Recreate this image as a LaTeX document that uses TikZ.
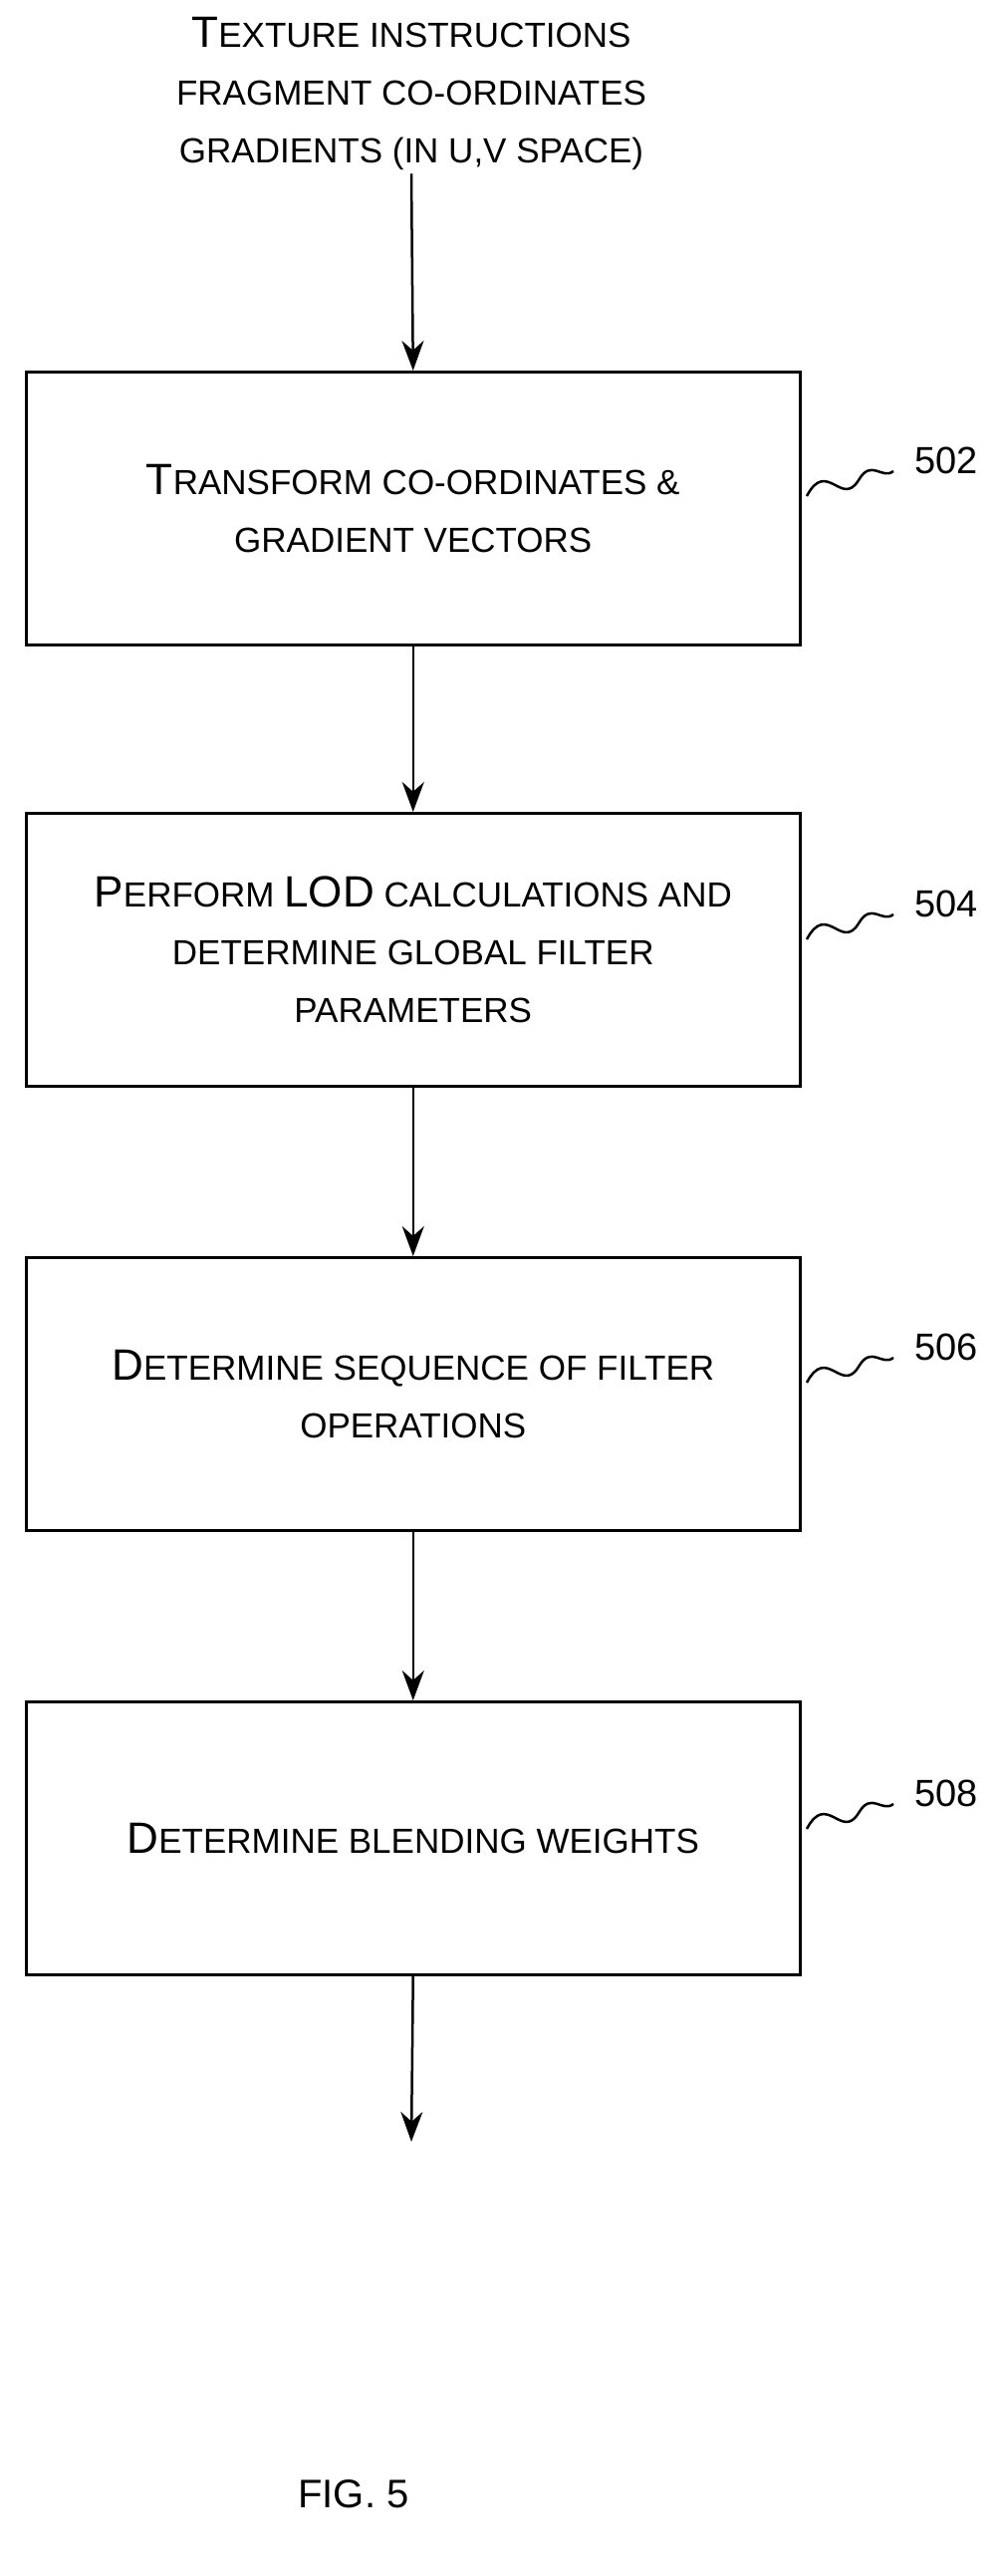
\documentclass[tikz,border=0pt]{standalone}
\usepackage{fontspec}
\setmainfont{Liberation Sans}
\usetikzlibrary{arrows.meta}
\newcommand{\bg}[1]{{\fontsize{44}{50}\selectfont #1}}
\begin{document}
\begin{tikzpicture}[x=1pt,y=-1pt,
  box/.style={draw,line width=2.5pt,minimum width=777pt,minimum height=274pt,anchor=north west,align=center,font=\fontsize{35}{58}\selectfont},
  arr/.style={line width=2.5pt,-{Stealth[length=30pt,width=22pt]}},
  sq/.style={line width=2.5pt},
  lab/.style={font=\fontsize{38}{40}\selectfont}]
\useasboundingbox (0,0) rectangle (1005,2586);
\node[align=center,font=\fontsize{35}{58}\selectfont] (top) at (413,94) {\bg{T}EXTURE INSTRUCTIONS\\FRAGMENT CO-ORDINATES\\GRADIENTS (IN U,V SPACE)};
\node[box] (b1) at (25,372) {\bg{T}RANSFORM CO-ORDINATES \&\\GRADIENT VECTORS};
\node[box] (b2) at (25,815) {\bg{P}ERFORM \bg{LOD} CALCULATIONS AND\\DETERMINE GLOBAL FILTER\\PARAMETERS};
\node[box] (b3) at (25,1261) {\bg{D}ETERMINE SEQUENCE OF FILTER\\OPERATIONS};
\node[box] (b4) at (25,1707) {\bg{D}ETERMINE BLENDING WEIGHTS};
\coordinate (end) at (413,2150);
\draw[arr] (top.south) -- (b1.north);
\draw[arr] (b1.south) -- (b2.north);
\draw[arr] (b2.south) -- (b3.north);
\draw[arr] (b3.south) -- (b4.north);
\draw[arr] (b4.south) -- (end);
\foreach \n/\y/\t in {1/470/502,2/915/504,3/1360/506,4/1808/508}{
  \draw[sq] (810,\y+28) .. controls (830,\y-10) and (845,\y+40) .. (862,\y+12) .. controls (875,\y-10) and (885,\y+12) .. (897,\y+3);
  \node[lab] (l\n) at (950,\y-8) {\t};
}
\node[font=\fontsize{40}{44}\selectfont] (fig) at (355,2504) {FIG. 5};
\end{tikzpicture}
\end{document}
